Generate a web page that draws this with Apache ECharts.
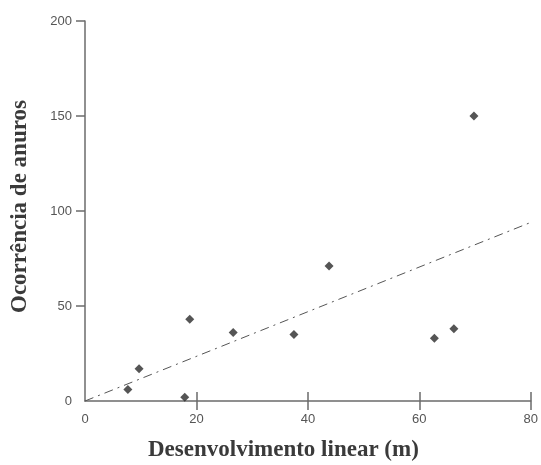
<!DOCTYPE html>
<html>
<head>
<meta charset="utf-8">
<script src="https://cdn.jsdelivr.net/npm/echarts@6/dist/echarts.min.js"></script>
<style>
  html, body { margin: 0; padding: 0; background: #fff; }
  #main { width: 541px; height: 465px; }
</style>
</head>
<body>
<div id="main"></div>
<script>
// pontos
var desenvolvimento = [7.7, 9.7, 17.9, 18.8, 26.6, 37.5, 43.8, 62.7, 66.2, 69.8];
var ocorrencia = [6, 17, 2, 43, 36, 35, 71, 33, 38, 150];
// reta de tendência
var trendX = [0, 80];
var trendY = [0, 94];
var xTicks = [20, 40, 60, 80];
var yTicks = [50, 100, 150, 200];

var pontos = desenvolvimento.map(function(x, i) { return [x, ocorrencia[i]]; });
var reta = trendX.map(function(x, i) { return [x, trendY[i]]; });

var chart = echarts.init(document.getElementById('main'));
var labelStyle = { color: '#555', fontFamily: 'Liberation Sans', fontSize: 13 };
var axisGray = '#6b6b6b';
var titleFont = 'bold 23px "Liberation Serif"';

chart.setOption({
  animation: false,
  grid: { left: 85, right: 9, top: 21, bottom: 64 },
  xAxis: [
    {
      type: 'value', min: 0, max: 80, interval: 20,
      axisLine: { lineStyle: { color: axisGray, width: 1.5 } },
      axisTick: { inside: true, length: 9, customValues: xTicks, lineStyle: { color: axisGray, width: 1.5 } },
      axisLabel: Object.assign({ margin: 12 }, labelStyle),
      splitLine: { show: false }
    },
    {
      // metade de baixo dos ticks (cruzam o eixo)
      type: 'value', min: 0, max: 80, interval: 20, position: 'bottom',
      axisLine: { show: false },
      axisTick: { length: 9, customValues: xTicks, lineStyle: { color: axisGray, width: 1.5 } },
      axisLabel: { show: false },
      splitLine: { show: false }
    }
  ],
  yAxis: {
    type: 'value', min: 0, max: 200, interval: 50,
    axisLine: { show: true, lineStyle: { color: axisGray, width: 1.5 } },
    axisTick: { show: true, length: 9, customValues: yTicks, lineStyle: { color: axisGray, width: 1.5 } },
    axisLabel: Object.assign({ margin: 13 }, labelStyle),
    splitLine: { show: false }
  },
  graphic: [
    {
      type: 'text', left: 148, top: 439,
      style: { text: 'Desenvolvimento linear (m)', fill: '#3a3a3a', font: titleFont }
    },
    {
      type: 'text', x: 20, y: 313, rotation: Math.PI / 2,
      style: { text: 'Ocorrência de anuros', fill: '#3a3a3a', font: titleFont, align: 'left', verticalAlign: 'middle' }
    }
  ],
  series: [
    {
      type: 'line', data: reta, symbol: 'none', silent: true,
      lineStyle: { color: '#555', width: 1, type: [9, 5, 2, 5] }
    },
    {
      type: 'scatter', data: pontos, symbol: 'diamond', symbolSize: 9,
      itemStyle: { color: '#2b2b2b' }
    }
  ]
});
</script>
</body>
</html>
